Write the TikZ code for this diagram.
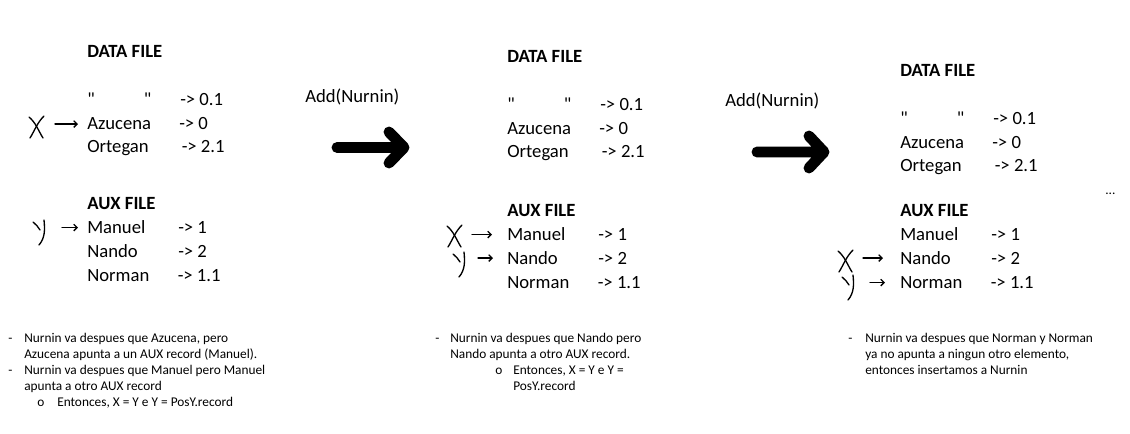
\documentclass[tikz,border=0pt]{standalone}
\usepackage{fontspec}
\setmainfont[Ligatures=TeXOff]{Carlito}
\usetikzlibrary{arrows.meta,positioning}
\tikzset
{
    entry/.style   = {inner sep=0pt, anchor=base west, font=\fontsize{14}{17}\selectfont},
    heading/.style = {entry, font=\fontsize{14}{17}\selectfont\bfseries},
    note/.style    = {inner sep=0pt, anchor=base west, font=\fontsize{10}{12}\selectfont},
    pen/.style     = {line width=1pt, line cap=round, line join=round},
    hand/.style    = {pen, -{Straight Barb[length=2.5pt,width=5pt]}},
    bigarrow/.style = {line width=8.2pt, line cap=round, line join=round},
    xmark/.pic = {\draw[pen] (-8,-10) .. controls (-1,-4) and (1,3) .. (6,11);
                  \draw[pen] (7,-11) .. controls (0,-4) and (-2,3) .. (-7,11);},
    ymark/.pic = {\draw[pen] (-7,-10) .. controls (-4,-8) and (-2,-5) .. (0,-2);
                  \draw[pen] (4,-12) .. controls (5,-2) and (5,6) .. (-1,13);}
}

\begin{document}
\begin{tikzpicture}[x=0.75pt, y=-0.75pt]
    \useasboundingbox (0,0) rectangle (1130,434);

    % the three states of the files
    \foreach \p/\x/\yd/\ya in {1/87/58/210, 2/507/63/217, 3/900/77/217}
    {
        \node [heading] (dh\p) at (\x, \yd) {DATA FILE};
        \node [entry] (q\p)   at (\x, {\yd+48}) {"};
        \node [entry] (qq\p)  at ({\x+56.5}, {\yd+48}) {"};
        \node [entry] (qv\p)  at ({\x+93}, {\yd+48}) {-> 0.1};
        \node [entry] (az\p)  at (\x, {\yd+72}) {Azucena};
        \node [entry] (azv\p) at ({\x+92}, {\yd+72}) {-> 0};
        \node [entry] (or\p)  at (\x, {\yd+95}) {Ortegan};
        \node [entry] (orv\p) at ({\x+94.5}, {\yd+95}) {-> 2.1};

        \node [heading] (ah\p) at (\x, \ya) {AUX FILE};
        \node [entry] (ma\p)  at (\x, {\ya+24}) {Manuel};
        \node [entry] (mav\p) at ({\x+91}, {\ya+24}) {-> 1};
        \node [entry] (na\p)  at (\x, {\ya+47.5}) {Nando};
        \node [entry] (nav\p) at ({\x+91}, {\ya+47.5}) {-> 2};
        \node [entry] (no\p)  at (\x, {\ya+71.5}) {Norman};
        \node [entry] (nov\p) at ({\x+90.5}, {\ya+71.5}) {-> 1.1};
    }
    \node [note] (dots) at (1105, 195) {...};

    % X and Y pointers
    \pic at (37, 127) {xmark};
    \pic at (40, 232) {ymark};
    \coordinate (xs1) at ([xshift=-24pt]az1.west);
    \coordinate (ys1) at ([xshift=-18.75pt]ma1.west);
    \draw [hand, shorten >=6.75pt] (xs1) -- (az1.west);
    \draw [hand, shorten >=6.75pt] (ys1) -- (ma1.west);

    \pic at (455, 236) {xmark};
    \pic at (460, 264) {ymark};
    \coordinate (xs2) at ([xshift=-26.25pt]ma2.west);
    \coordinate (ys2) at ([xshift=-21.75pt]na2.west);
    \draw [hand, shorten >=11.25pt] (xs2) -- (ma2.west);
    \draw [hand, shorten >=10.5pt] (ys2) -- (na2.west);

    \pic at (846, 261) {xmark};
    \pic at (849, 287) {ymark};
    \coordinate (xs3) at ([xshift=-27.75pt]na3.west);
    \coordinate (ys3) at ([xshift=-22.5pt]no3.west);
    \draw [hand, shorten >=12.75pt] (xs3) -- (na3.west);
    \draw [hand, shorten >=11.25pt] (ys3) -- (no3.west);

    % Add(Nurnin) steps
    \node [entry] (add1) at (305, 103) {Add(Nurnin)};
    \coordinate (t1) at (337, 147.5);
    \coordinate (h1) at (404, 147.5);
    \draw [bigarrow] (t1) -- (h1) (389, 132) -- (h1) -- (389, 163);

    \node [entry] (add2) at (725, 107) {Add(Nurnin)};
    \coordinate (t2) at (757, 152);
    \coordinate (h2) at (824, 152);
    \draw [bigarrow] (t2) -- (h2) (809, 136) -- (h2) -- (809, 168);

    % notes
    \node [note] (n1a) at (8, 342)  {-};
    \node [note] (n1b) at (24, 342) {Nurnin va despues que Azucena, pero};
    \node [note] (n1c) at (24, 358) {Azucena apunta a un AUX record (Manuel).};
    \node [note] (n1d) at (8, 374)  {-};
    \node [note] (n1e) at (24, 374) {Nurnin va despues que Manuel pero Manuel};
    \node [note] (n1f) at (24, 390) {apunta a otro AUX record};
    \node [note] (n1g) at (37, 406) {o};
    \node [note] (n1h) at (57, 406) {Entonces, X = Y e Y = PosY.record};

    \node [note] (n2a) at (435, 342) {-};
    \node [note] (n2b) at (450, 342) {Nurnin va despues que Nando pero};
    \node [note] (n2c) at (450, 358) {Nando apunta a otro AUX record.};
    \node [note] (n2d) at (495, 374) {o};
    \node [note] (n2e) at (513, 374) {Entonces, X = Y e Y =};
    \node [note] (n2f) at (513, 390) {PosY.record};

    \node [note] (n3a) at (848, 342) {-};
    \node [note] (n3b) at (865, 342) {Nurnin va despues que Norman y Norman};
    \node [note] (n3c) at (865, 358) {ya no apunta a ningun otro elemento,};
    \node [note] (n3d) at (865, 374) {entonces insertamos a Nurnin};
\end{tikzpicture}
\end{document}
